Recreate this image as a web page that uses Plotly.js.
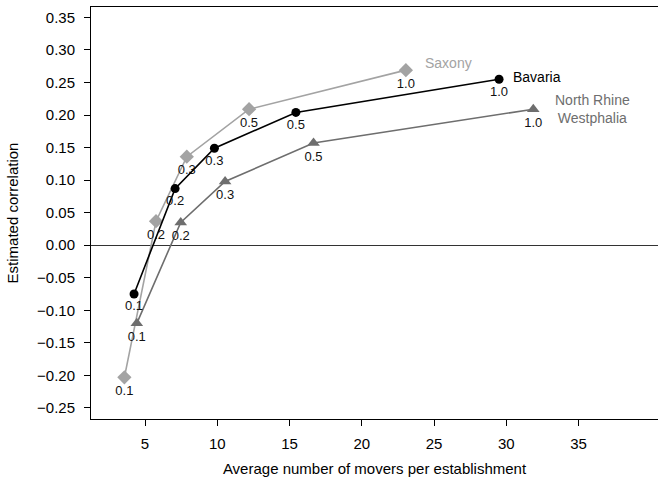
<!DOCTYPE html>
<html><head><meta charset="utf-8">
<script src="https://cdn.plot.ly/plotly-3.0.1.min.js"></script>
<style>html,body{margin:0;padding:0;background:#fff;}#chart{width:658px;height:477px;}</style>
</head><body><div id="chart"></div>
<script>
var shareLabels = ["0.1","0.2","0.3","0.5","1.0"];
var bavariaX = [4.24, 7.08, 9.8, 15.44, 29.5];
var bavariaY = [-0.075, 0.087, 0.149, 0.204, 0.255];
var saxonyX = [3.57, 5.76, 7.89, 12.2, 23.05];
var saxonyY = [-0.203, 0.037, 0.136, 0.209, 0.269];
var nrwX = [4.43, 7.47, 10.54, 16.66, 31.87];
var nrwY = [-0.12, 0.035, 0.098, 0.157, 0.209];
var seriesNames = ["Saxony", "Bavaria", "North Rhine<br>Westphalia"];
var nameX = [26.0, 32.1, 35.95];
var nameY = [0.28, 0.258, 0.209];

var FONT = "Liberation Sans, Arial, Helvetica, sans-serif";
var cSax = "#a3a3a3", cBav = "#000000", cNrw = "#6e6e6e";

function trace(x, y, color, symbol, size) {
  return {
    x: x, y: y, type: "scatter", mode: "lines+markers+text",
    text: shareLabels, textposition: "bottom center",
    textfont: {family: FONT, size: 13, color: "#111111"},
    line: {color: color, width: 1.6},
    marker: {color: color, symbol: symbol, size: size},
    cliponaxis: false, showlegend: false, hoverinfo: "skip"
  };
}

var data = [
  trace(saxonyX, saxonyY, cSax, "diamond", 11),
  trace(nrwX, nrwY, cNrw, "triangle-up", 11),
  trace(bavariaX, bavariaY, cBav, "circle", 9)
];

var nameColors = [cSax, cBav, cNrw];
var annotations = seriesNames.map(function (n, i) {
  return {x: nameX[i], y: nameY[i], xref: "x", yref: "y", text: n, showarrow: false,
    font: {family: FONT, size: 14, color: nameColors[i]}, align: "center"};
});

var layout = {
  width: 658, height: 477,
  margin: {l: 91, r: 0, t: 7, b: 58},
  paper_bgcolor: "#fff", plot_bgcolor: "#fff",
  font: {family: FONT, size: 15, color: "#000"},
  xaxis: {
    range: [1.26, 40.5], tickvals: [5,10,15,20,25,30,35],
    showgrid: false, zeroline: false, showline: true, mirror: true,
    linecolor: "#000", linewidth: 1, ticks: "outside", ticklen: 6, tickcolor: "#000",
    ticklabelstandoff: 5,
    tickfont: {family: FONT, size: 15},
    title: {text: "Average number of movers per establishment", font: {family: FONT, size: 15}, standoff: 12}
  },
  yaxis: {
    range: [-0.267, 0.366], tickvals: [-0.25,-0.2,-0.15,-0.1,-0.05,0,0.05,0.1,0.15,0.2,0.25,0.3,0.35],
    tickformat: ".2f",
    showgrid: false, zeroline: true, zerolinecolor: "#333", zerolinewidth: 1,
    showline: true, linecolor: "#000", linewidth: 1, ticks: "outside", ticklen: 6, tickcolor: "#000",
    ticklabelstandoff: 6,
    tickfont: {family: FONT, size: 15},
    title: {text: "Estimated correlation", font: {family: FONT, size: 15}, standoff: 14}
  },
  annotations: annotations
};

Plotly.newPlot("chart", data, layout, {staticPlot: true, displayModeBar: false});
</script></body></html>
